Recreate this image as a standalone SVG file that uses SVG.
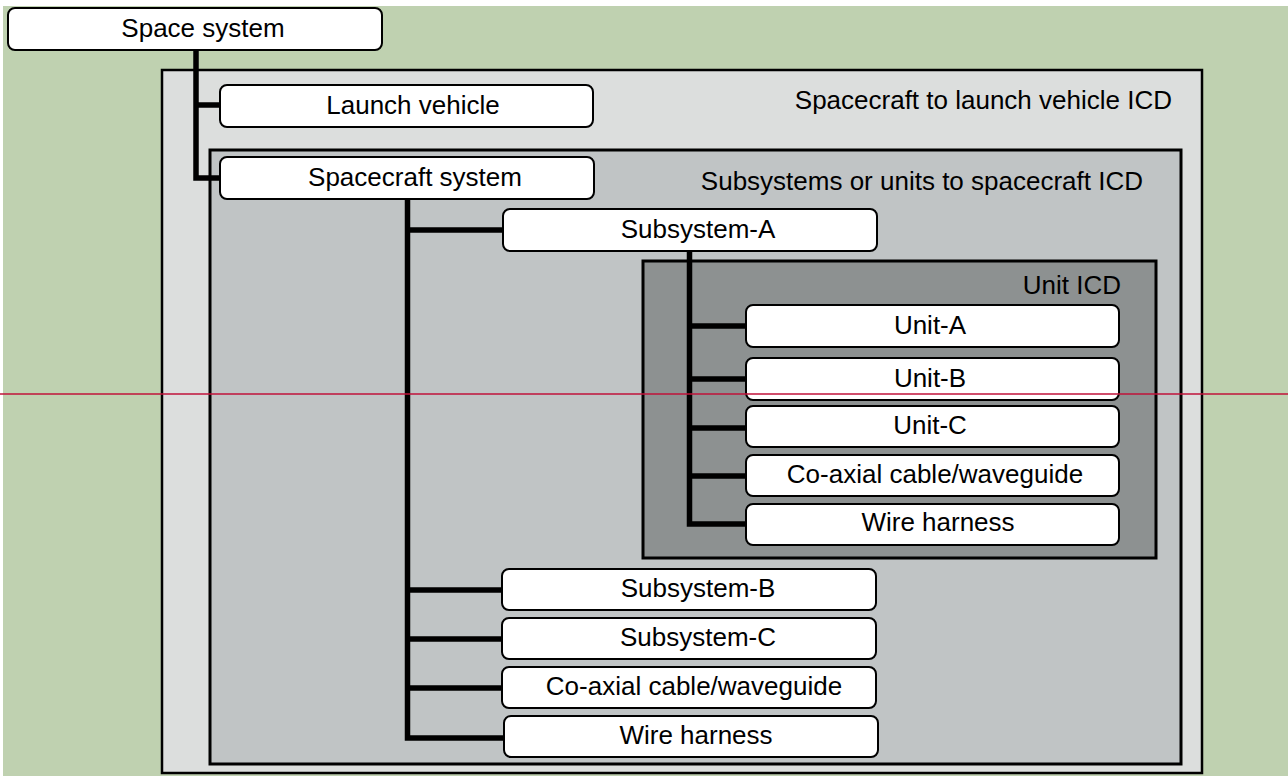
<svg xmlns="http://www.w3.org/2000/svg" width="1288" height="776" viewBox="0 0 1288 776">
<style>
.node{fill:#ffffff;stroke:#000;stroke-width:2}
.t{font-family:"Liberation Sans",Arial,sans-serif;font-size:26px;fill:#000}
.c{text-anchor:middle}
.e{text-anchor:end}
.conn{fill:none;stroke:#000;stroke-width:5.5;stroke-linejoin:miter}
</style>
<rect x="0" y="0" width="1288" height="776" fill="#ffffff"/>
<rect x="3" y="6" width="1285" height="770" fill="#bfd1b0"/>
<g id="zone-lv-icd">
<rect x="162" y="70" width="1040" height="703" fill="#dcdedd" stroke="#000" stroke-width="2.5"/>
<text class="t e" x="1172" y="109">Spacecraft to launch vehicle ICD</text>
</g>
<g id="zone-sc-icd">
<rect x="210" y="150" width="971" height="614" fill="#c0c4c5" stroke="#000" stroke-width="3"/>
<text class="t e" x="1143" y="190">Subsystems or units to spacecraft ICD</text>
</g>
<g id="zone-unit-icd">
<rect x="643" y="261" width="513" height="297" fill="#8d9191" stroke="#000" stroke-width="3"/>
<text class="t e" x="1121" y="294">Unit ICD</text>
</g>
<g id="connectors">
<path class="conn" d="M196 50 V178 H221 M196 105 H221"/>
<path class="conn" d="M407.5 200 V738 H505 M407.5 230 H504 M407.5 590 H503 M407.5 639 H503 M407.5 688 H503"/>
<path class="conn" d="M689.5 252 V524 H747 M689.5 326 H747 M689.5 379 H747 M689.5 428 H747 M689.5 476 H747"/>
</g>
<g id="space-system"><rect class="node" x="8" y="8" width="374" height="42" rx="7"/><text class="t c" x="203" y="37">Space system</text></g>
<g id="launch-vehicle"><rect class="node" x="220" y="85" width="373" height="42" rx="7"/><text class="t c" x="413" y="114">Launch vehicle</text></g>
<g id="spacecraft-system"><rect class="node" x="220" y="157" width="374" height="42" rx="7"/><text class="t c" x="415" y="186">Spacecraft system</text></g>
<g id="subsystem-a"><rect class="node" x="503" y="209" width="374" height="42" rx="7"/><text class="t c" x="698" y="238">Subsystem-A</text></g>
<g id="unit-a"><rect class="node" x="746" y="305" width="373" height="42" rx="7"/><text class="t c" x="930" y="334">Unit-A</text></g>
<g id="unit-b"><rect class="node" x="746" y="358" width="373" height="42" rx="7"/><text class="t c" x="930" y="387">Unit-B</text></g>
<g id="unit-c"><rect class="node" x="746" y="406" width="373" height="41" rx="7"/><text class="t c" x="930" y="434">Unit-C</text></g>
<g id="unit-coax"><rect class="node" x="746" y="455" width="373" height="41" rx="7"/><text class="t c" x="935" y="483">Co-axial cable/waveguide</text></g>
<g id="unit-harness"><rect class="node" x="746" y="504" width="373" height="41" rx="7"/><text class="t c" x="938" y="531">Wire harness</text></g>
<g id="subsystem-b"><rect class="node" x="502" y="569" width="374" height="41" rx="7"/><text class="t c" x="698" y="597">Subsystem-B</text></g>
<g id="subsystem-c"><rect class="node" x="502" y="618" width="374" height="41" rx="7"/><text class="t c" x="698" y="646">Subsystem-C</text></g>
<g id="sub-coax"><rect class="node" x="502" y="667" width="374" height="41" rx="7"/><text class="t c" x="694" y="695">Co-axial cable/waveguide</text></g>
<g id="sub-harness"><rect class="node" x="504" y="716" width="374" height="41" rx="7"/><text class="t c" x="696" y="744">Wire harness</text></g>
<line x1="0" y1="394" x2="1288" y2="394" stroke="#c0123a" stroke-width="1.6"/>
</svg>
